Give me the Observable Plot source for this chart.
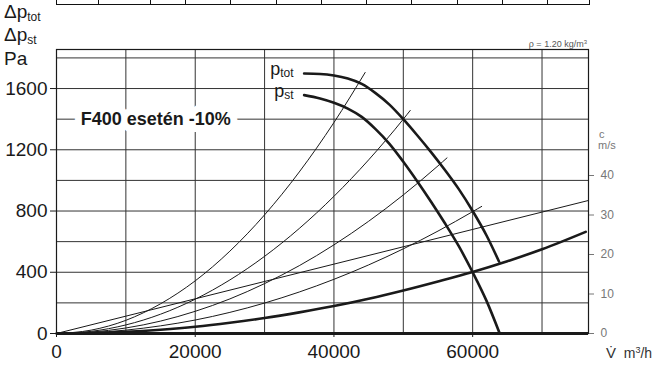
<!DOCTYPE html>
<html>
<head>
<meta charset="utf-8">
<script src="https://cdn.jsdelivr.net/npm/d3@7"></script>
<script src="https://cdn.jsdelivr.net/npm/@observablehq/plot@0.6"></script>
<style>
  html, body { margin: 0; padding: 0; background: white; }
  #wrap { position: relative; width: 670px; height: 367px; overflow: hidden; font-family: "Liberation Sans", Arial, sans-serif; }
  #table { position: absolute; left: 56px; top: -10px; height: 14px; display: flex; border-bottom: 1.5px solid #111; }
  #table div { height: 14px; border-right: 1.2px solid #111; box-sizing: border-box; }
  #table div:first-child { border-left: 1.2px solid #111; }
</style>
</head>
<body>
<div id="wrap">
  <div id="chart"></div>
  <div id="table"></div>
</div>
<script>
// ---- data (m³/h, Pa) ----
const fanV     = [35700, 38000, 40000, 42000, 44000, 46000, 48000, 50000, 52000, 54000, 56000, 58000, 60000, 62000, 63800];
const pTot     = [1698, 1695, 1685, 1665, 1630, 1570, 1495, 1400, 1295, 1185, 1068, 943, 800, 640, 470];
const fanVst   = [35700, 38000, 40000, 42000, 44000, 46000, 48000, 50000, 52000, 54000, 56000, 58000, 60000, 62000, 63900];
const pSt      = [1557, 1535, 1507, 1469, 1415, 1335, 1239, 1122, 995, 861, 720, 570, 400, 213, 0];

// system curves read at a common flow grid, each with its own end point
const sysV  = [0, 5000, 10000, 15000, 20000, 25000, 30000, 35000, 40000, 45000, 50000, 55000, 60000, 65000, 70000];
const sysA  = [0, 22, 86, 194, 344, 538, 775, 1055, 1378];
const sysB  = [0, 14, 56, 126, 224, 350, 504, 686, 896, 1134, 1400];
const sysC  = [0, 9, 36, 81, 145, 226, 326, 443, 579, 733, 905, 1095];
const sysD  = [0, 6, 22, 50, 88, 138, 199, 271, 354, 448, 553, 669, 796];
const sysS  = [0, 3, 11, 25, 44, 70, 101, 138, 179, 227, 281, 340, 402, 472, 550];
const sysEndV = [44500, 51000, 56300, 61300, 76300];
const sysEndP = [1705, 1457, 1147, 830, 664];
const lineEV = [0, 76700];
const lineEP = [0, 869];

const xTicks = [0, 20000, 40000, 60000];
const yTicks = [0, 400, 800, 1200, 1600];
const xGrid  = [10000, 20000, 30000, 40000, 50000, 60000, 70000];
const yGrid  = [200, 400, 600, 800, 1000, 1200, 1400, 1600, 1800];
const cTicks = [0, 10, 20, 30, 40];
const paPerMs = 25.8; // right-hand c scale: 1 m/s ↔ Pa on the left scale
const annotation = ["F400 esetén -10%"];
const tableCells = [43, 52, 35, 45, 46, 45, 45, 45, 46, 45, 45, 42];

// ---- build rows ----
const fanTot = fanV.map((v, i) => ({V: v, P: pTot[i]}));
const fanSt  = fanVst.map((v, i) => ({V: v, P: pSt[i]}));
function sysRows(ps, k) {
  const rows = ps.map((p, i) => ({V: sysV[i], P: p, k}));
  rows.push({V: sysEndV[k], P: sysEndP[k], k});
  return rows;
}
const thin = [sysA, sysB, sysC, sysD].flatMap((ps, k) => sysRows(ps, k));
const thick = sysRows(sysS, 4);
const lineE = lineEV.map((v, i) => ({V: v, P: lineEP[i]}));

const font = "'Liberation Sans', Arial, Helvetica, sans-serif";
const ink = "#1a1a1a";

const plot = Plot.plot({
  width: 670, height: 367,
  marginLeft: 56, marginRight: 82, marginTop: 49, marginBottom: 34,
  x: {domain: [0, 76700]},
  y: {domain: [0, 1855]},
  style: {fontFamily: font, background: "white", overflow: "visible"},
  marks: [
    Plot.ruleX(xGrid, {stroke: "#333", strokeWidth: 1}),
    Plot.ruleY(yGrid, {stroke: "#333", strokeWidth: 1}),
    Plot.line(thin, {x: "V", y: "P", z: "k", stroke: ink, strokeWidth: 1, curve: "monotone-x"}),
    Plot.line(lineE, {x: "V", y: "P", stroke: ink, strokeWidth: 1}),
    Plot.line(thick, {x: "V", y: "P", stroke: ink, strokeWidth: 2.6, curve: "monotone-x"}),
    Plot.line(fanTot, {x: "V", y: "P", stroke: ink, strokeWidth: 2.6, curve: "monotone-x"}),
    Plot.line(fanSt, {x: "V", y: "P", stroke: ink, strokeWidth: 2.6, curve: "monotone-x"}),
    Plot.text(annotation, {x: 3500, y: 1400, text: d => d, textAnchor: "start", fontSize: 18, fontWeight: "bold",
      fill: ink, stroke: "white", strokeWidth: 14, strokeLinejoin: "miter"}),
    Plot.frame({stroke: ink, strokeWidth: 1.2}),
    Plot.ruleY([0], {stroke: ink, strokeWidth: 3}),
    Plot.axisX(xTicks, {tickSize: 4, tickPadding: 7, fontSize: 19, tickFormat: d => String(d), label: null, color: ink}),
    Plot.axisY(yTicks, {anchor: "left", tickSize: 6, tickPadding: 3, fontSize: 19, tickFormat: d => String(d), label: null, color: ink}),
    Plot.axisY(cTicks.map(c => c * paPerMs), {anchor: "right", tickSize: 5, tickPadding: 7, fontSize: 12,
      tickFormat: d => String(Math.round(d / paPerMs)), label: null, color: "#777"})
  ]
});
document.getElementById("chart").appendChild(plot);

const svg = d3.select(plot);
const xs = plot.scale("x"), ys = plot.scale("y");

function addLabel(x, y, parts, opts = {}) {
  const t = svg.append("text").attr("x", x).attr("y", y)
    .attr("font-family", font).attr("fill", opts.fill || ink)
    .attr("text-anchor", opts.anchor || "start");
  parts.forEach(([s, size, dy]) => {
    t.append("tspan").attr("font-size", size).attr("dy", dy || 0).text(s);
  });
  return t;
}

// y-axis title
addLabel(4, 18, [["Δp", 19], ["tot", 12, 3]]);
addLabel(4, 41, [["Δp", 19], ["st", 12, 3]]);
addLabel(4, 65, [["Pa", 19]]);

// curve labels
addLabel(xs.apply(fanV[0]) - 10, ys.apply(pTot[0]) + 2, [["p", 18], ["tot", 12, 2]], {anchor: "end"});
addLabel(xs.apply(fanVst[0]) - 10, ys.apply(pSt[0]) + 2, [["p", 18], ["st", 12, 2]], {anchor: "end"});

// density note
addLabel(587, 47, [["ρ = 1.20 kg/m", 9], ["3", 6, -3]], {anchor: "end", fill: "#555"});

// right axis unit
addLabel(599, 138, [["c", 11]], {fill: "#777"});
addLabel(598, 149, [["m/s", 11]], {fill: "#777"});

// x axis unit
addLabel(606, 358, [["V\u0307", 15], ["  m", 14], ["3", 9, -5], ["/h", 14, 5]], {fill: "#333"});

// cropped table above the chart
const tbl = d3.select("#table");
tableCells.forEach(w => tbl.append("div").style("width", w + "px"));
</script>
</body>
</html>
